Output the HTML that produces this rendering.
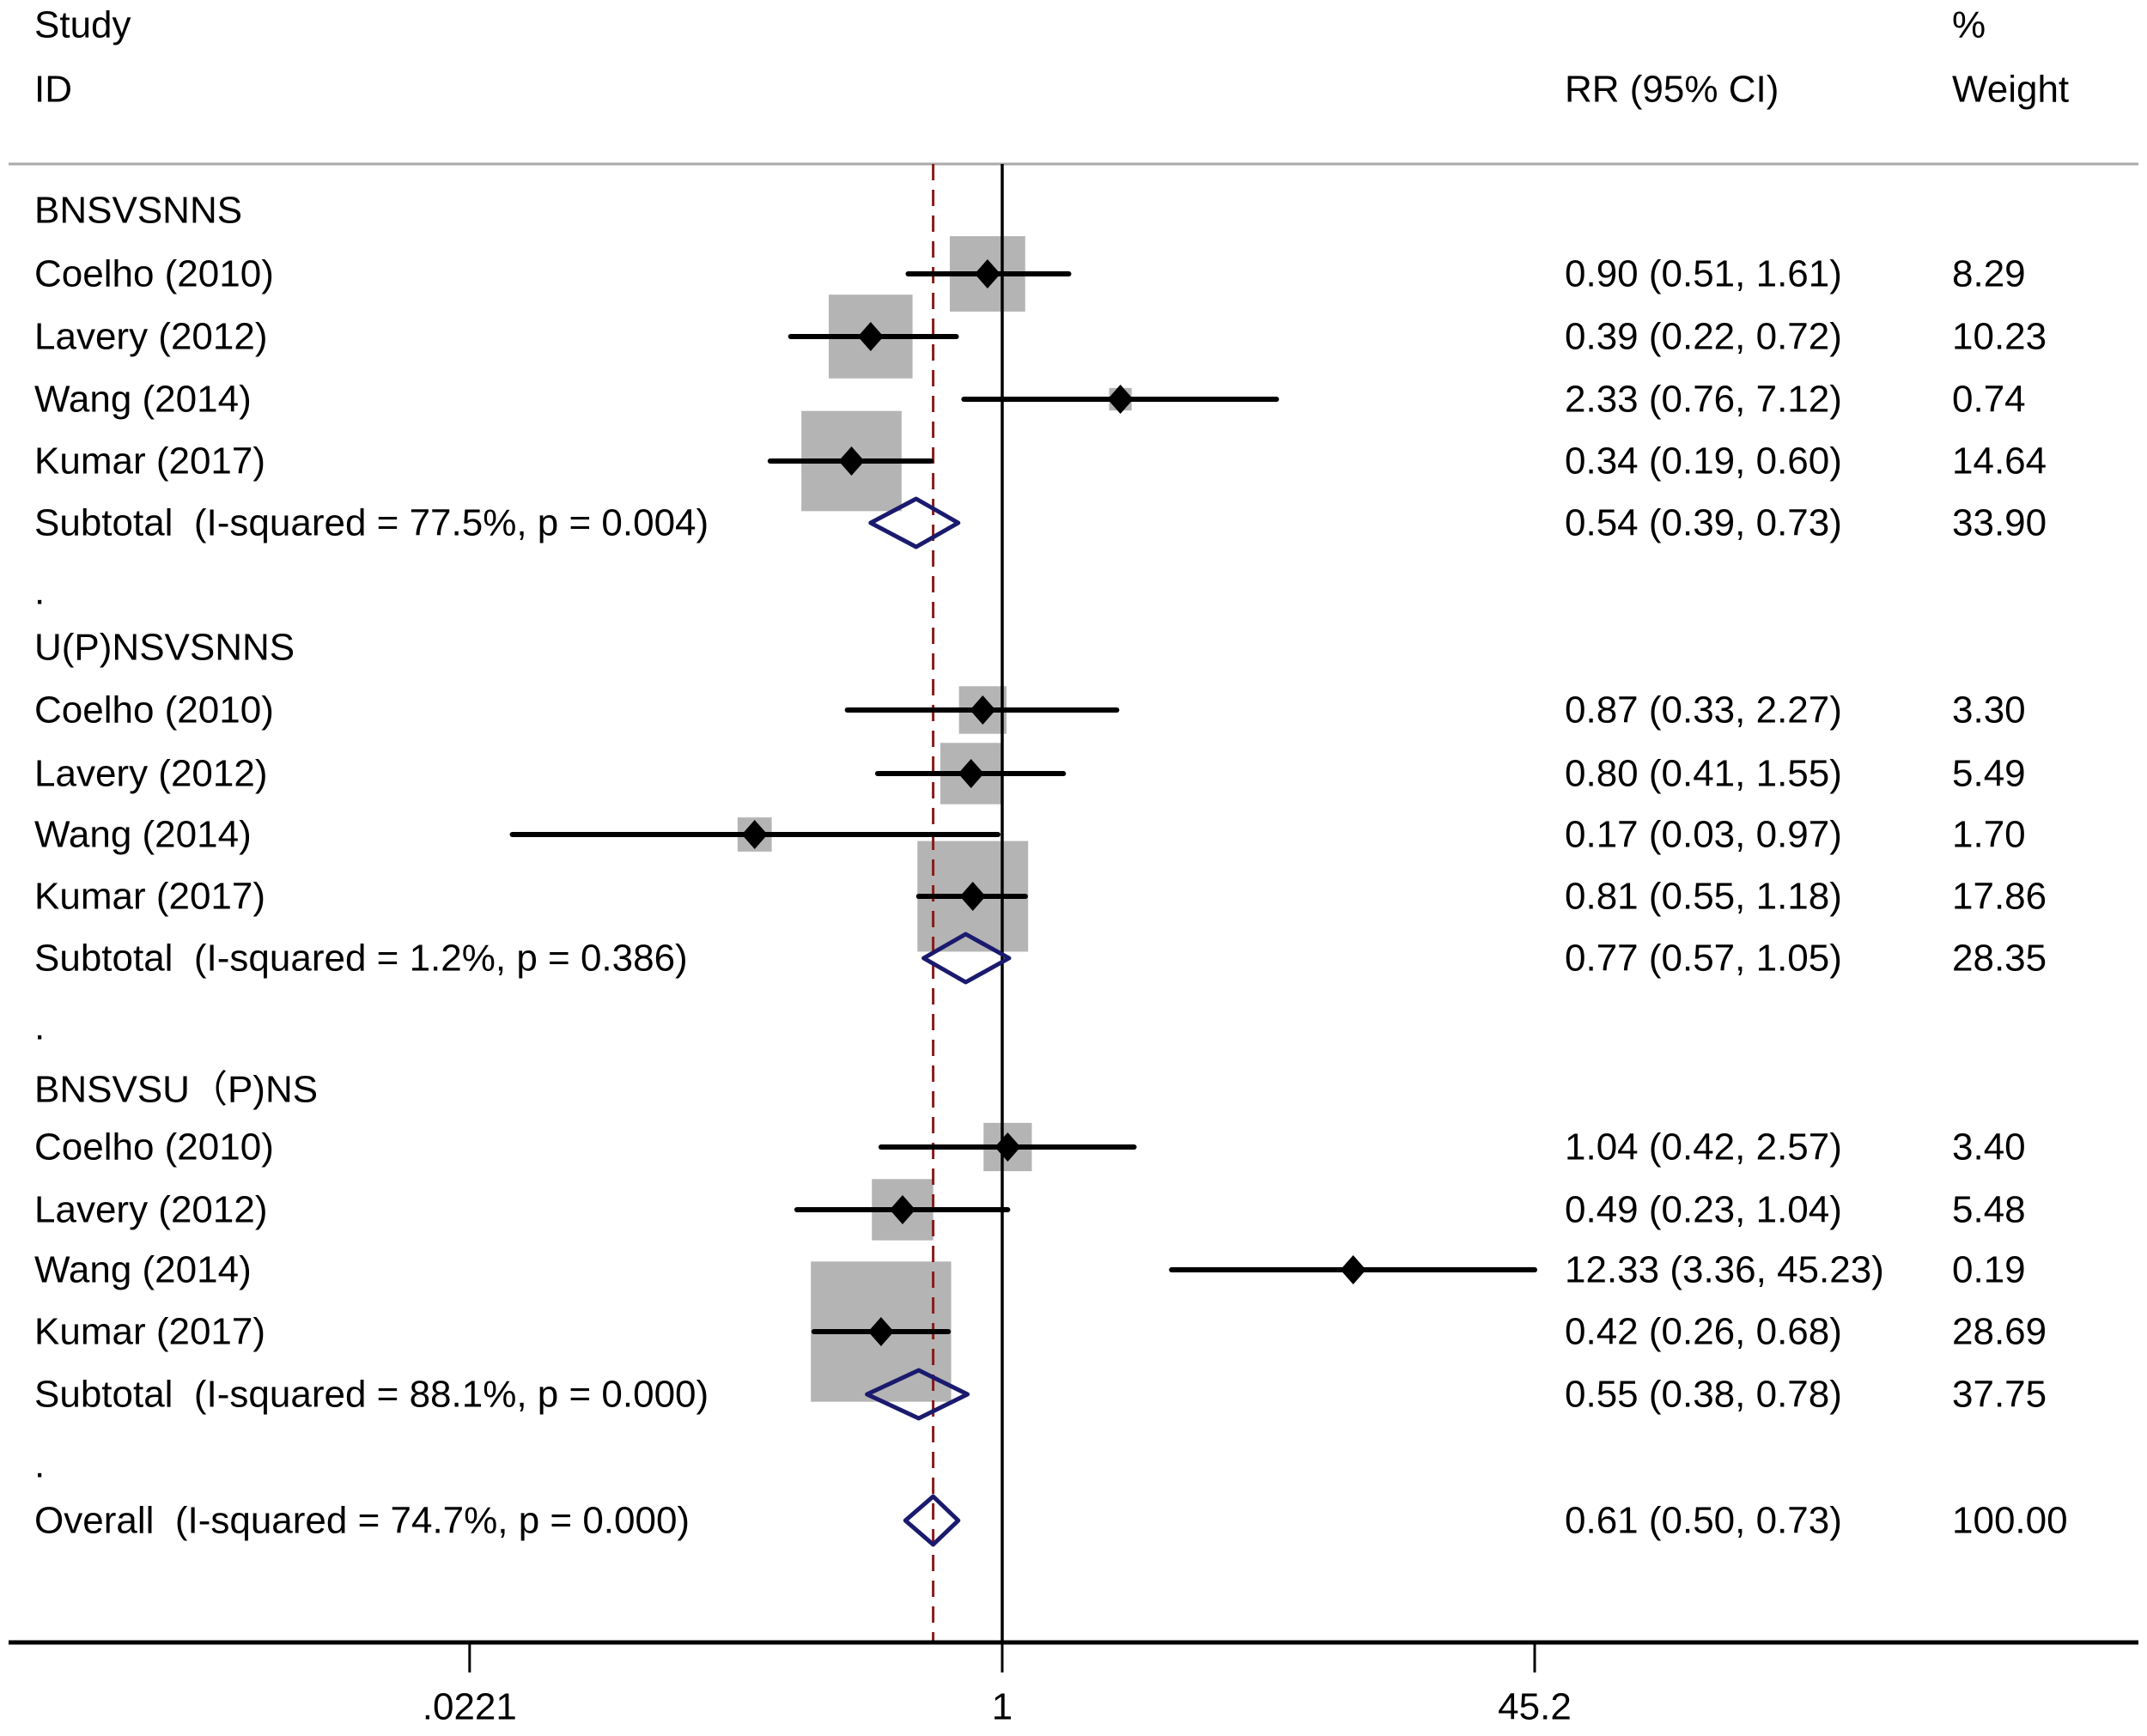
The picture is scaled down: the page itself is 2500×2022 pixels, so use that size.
<!DOCTYPE html>
<html><head><meta charset="utf-8"><style>
html,body{margin:0;padding:0;background:#fff;}
svg text{font-family:"Liberation Sans",Arial,sans-serif;font-size:44px;fill:#000;white-space:pre;}
</style></head><body>
<svg id="chart" width="2500" height="2017" viewBox="0 0 2500 2017" xmlns="http://www.w3.org/2000/svg" xml:space="preserve">
<g id="g"></g>
</svg>
<script>
const labels = ["Coelho (2010)","Lavery (2012)","Wang (2014)","Kumar (2017)","Subtotal  (I-squared = 77.5%, p = 0.004)",
 "Coelho (2010)","Lavery (2012)","Wang (2014)","Kumar (2017)","Subtotal  (I-squared = 1.2%, p = 0.386)",
 "Coelho (2010)","Lavery (2012)","Wang (2014)","Kumar (2017)","Subtotal  (I-squared = 88.1%, p = 0.000)",
 "Overall  (I-squared = 74.7%, p = 0.000)"];
const rr =    [0.90,0.39,2.33,0.34,0.54, 0.87,0.80,0.17,0.81,0.77, 1.04,0.49,12.33,0.42,0.55, 0.61];
const lo =    [0.51,0.22,0.76,0.19,0.39, 0.33,0.41,0.03,0.55,0.57, 0.42,0.23,3.36,0.26,0.38, 0.50];
const hi =    [1.61,0.72,7.12,0.60,0.73, 2.27,1.55,0.97,1.18,1.05, 2.57,1.04,45.23,0.68,0.78, 0.73];
const weight =[8.29,10.23,0.74,14.64,33.90, 3.30,5.49,1.70,17.86,28.35, 3.40,5.48,0.19,28.69,37.75, 100.00];
const isSummary=[0,0,0,0,1, 0,0,0,0,1, 0,0,0,0,1, 1];
const groups = ["BNSVSNNS","U(P)NSVSNNS","BNSVSU（P)NS"];
const tickVals = [0.0221,1,45.2];
const tickLabels = [".0221","1","45.2"];
const overall = 0.61;

const rowY = [319,392,465,537,609, 827,901,972,1044,1116, 1336,1409,1479,1551,1624, 1771];
const groupY = [245,754,1269];
const dotY = [689,1196,1706];

const NS="http://www.w3.org/2000/svg";
const gRoot=document.getElementById('g');
function xs(v){return 1167+620*Math.log(v)/Math.log(45.2);}
function el(tag,attrs,parent){const e=document.createElementNS(NS,tag);for(const k in attrs)e.setAttribute(k,attrs[k]);(parent||gRoot).appendChild(e);return e;}
function txt(s,xx,yy,name,anchor){const t=el('text',{x:xx,y:yy,'dominant-baseline':'central','text-anchor':anchor||'start'});t.textContent=s;


return t;}

txt("Study",40,29,"study-header");
txt("ID",40,104,"id-header");
txt("RR (95% CI)",1822,104,"rr-header");
txt("%",2273,29,"percent-header");
txt("Weight",2273,104,"weight-header");
const headerRule=el('line',{x1:10,x2:2490,y1:191,y2:191,stroke:'#aaa','stroke-width':3});



rr.forEach((v,i)=>{
  if(isSummary[i])return;
  const s=30.5*Math.sqrt(weight[i]);
  const b=el('rect',{x:xs(v)-s/2,y:rowY[i]-s/2,width:s,height:s,fill:'#b4b4b4'});
  
  
});
const nullLine=el('line',{x1:xs(1),x2:xs(1),y1:191,y2:1913,stroke:'#000','stroke-width':3.5});


const overallLine=el('line',{x1:xs(overall),x2:xs(overall),y1:191,y2:1913,stroke:'#8b1a1a','stroke-width':3,'stroke-dasharray':'19 11'});



rr.forEach((v,i)=>{
  const y=rowY[i];
  txt(labels[i],40,y,isSummary[i]?'subtotal-label':'study-label');
  txt(v.toFixed(2)+" ("+lo[i].toFixed(2)+", "+hi[i].toFixed(2)+")",1822,y,'rr-ci-value');
  txt(weight[i].toFixed(2),2273,y,'weight-value');
  if(isSummary[i]){
    const d=el('polygon',{points:`${xs(lo[i])},${y} ${xs(v)},${y-28} ${xs(hi[i])},${y} ${xs(v)},${y+28}`,fill:'none',stroke:'#1a1a6e','stroke-width':5,'stroke-linejoin':'round'});
    
    
  } else {
    const l=el('line',{x1:xs(lo[i]),x2:xs(hi[i]),y1:y,y2:y,stroke:'#000','stroke-width':6,'stroke-linecap':'round'});
    
    
    const m=el('polygon',{points:`${xs(v)-15},${y} ${xs(v)},${y-17} ${xs(v)+15},${y} ${xs(v)},${y+17}`,fill:'#000'});
    
    
  }
});
groups.forEach((s,i)=>txt(s,40,groupY[i],'group-header'));
dotY.forEach(y=>txt(".",40,y,'spacer-dot'));

const xAxis=el('line',{x1:10,x2:2490,y1:1913,y2:1913,stroke:'#000','stroke-width':5});


tickVals.forEach((v,i)=>{
  const t=el('line',{x1:xs(v),x2:xs(v),y1:1913,y2:1948,stroke:'#000','stroke-width':3});
  
  
  txt(tickLabels[i],xs(v),1988,'x-tick-label','middle');
});
</script>
</body></html>
